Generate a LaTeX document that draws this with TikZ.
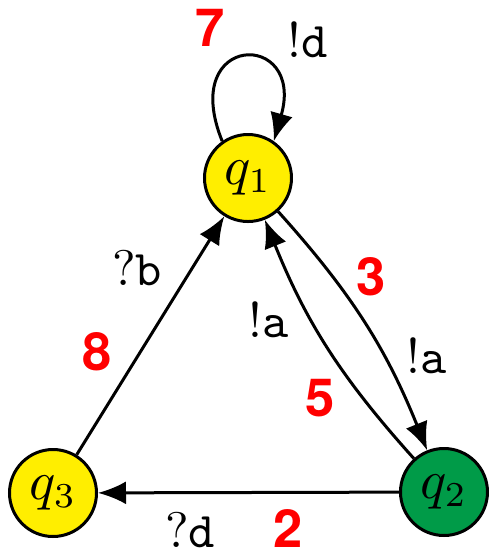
\documentclass[tikz,border=0pt]{standalone}
\usepackage{fontspec}
\newfontfamily\numfont{TeX Gyre Heros}
\usetikzlibrary{arrows.meta}
\definecolor{stateyellow}{RGB}{255,238,0}
\definecolor{stategreen}{RGB}{0,155,72}
\begin{document}
\begin{tikzpicture}[x=0.2pt,y=-0.2pt,
  state/.style={circle,draw=black,line width=0.6pt,minimum size=17.4pt,inner sep=0pt,font=\fontsize{10.5}{12}\selectfont},
  edge/.style={line width=0.6pt,-{Latex[length=5.6pt,width=4.6pt]}},
  lbl/.style={inner sep=0pt,font=\fontsize{10}{12}\selectfont},
  num/.style={inner sep=0pt,text=red,font=\numfont\bfseries\fontsize{10.5}{12}\selectfont}]
\useasboundingbox (0,0) rectangle (491,552);
\node[state,fill=stateyellow] (q1) at (248,178) {$q_1$};
\node[state,fill=stategreen] (q2) at (444,492) {$q_2$};
\node[state,fill=stateyellow] (q3) at (53,493) {$q_3$};
% edges
\draw[edge] (q2) -- (q3);
\draw[edge] (q3) -- (q1);
\draw[edge] (q1) to[bend left=10] (q2);
\draw[edge] (q2) to[bend left=10] (q1);
\draw[edge] (q1.125) .. controls +(-112:118) and +(-74:116) .. (q1.55);
% labels
\node[num] (n7) at (210,28) {7};
\node[lbl] (ld) at (308,40) {$!\mathtt{d}$};
\node[lbl] (lb) at (137,268) {$?\mathtt{b}$};
\node[num] (n8) at (97,352) {8};
\node[lbl] (la1) at (269,320) {$!\mathtt{a}$};
\node[num] (n3) at (371,277) {3};
\node[lbl] (la2) at (427,356) {$!\mathtt{a}$};
\node[num] (n5) at (320,398) {5};
\node[lbl] (lqd) at (190,530) {$?\mathtt{d}$};
\node[num] (n2) at (288,528) {2};
\end{tikzpicture}
\end{document}
